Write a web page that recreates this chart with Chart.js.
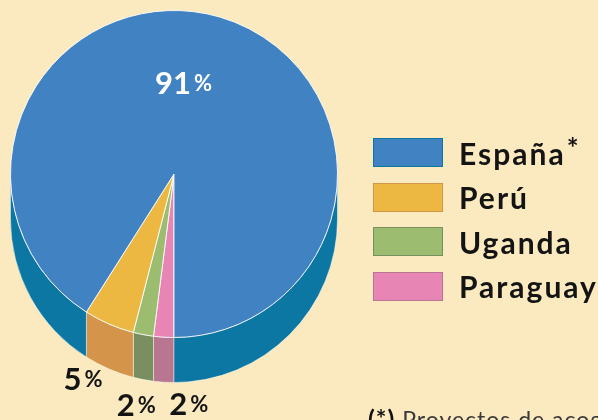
<!DOCTYPE html>
<html>
<head>
<meta charset="utf-8">
<script src="https://cdn.jsdelivr.net/npm/chart.js@4.4.1/dist/chart.umd.min.js"></script>
<style>
    html, body { margin: 0; padding: 0; background: #fbeabf; }
    #wrap { position: relative; width: 598px; height: 420px; overflow: hidden; font-family: Lato, sans-serif; }
    #pie { position: absolute; left: 0; top: 0; }
    #legend { position: absolute; left: 373px; top: 138px; }
    .item { display: flex; align-items: center; height: 29px; margin-bottom: 15.5px; }
    .box { width: 68px; height: 27px; border: 1px solid; margin-right: 16px; box-sizing: content-box; }
    .lbl { font-size: 30px; font-weight: 700; color: #141414; white-space: nowrap; letter-spacing: 2px; }
    .lbl .star { font-size: 28px; position: relative; top: -7px; margin-left: 1px; }
    #note { position: absolute; left: 368px; top: 403px; font-size: 23px; color: #3a3a3a; white-space: nowrap; letter-spacing: 1px; }
    #note b { font-weight: 700; color: #111; font-size: 25px; }
</style>
</head>
<body>
<div id="wrap">
    <canvas id="pie" width="598" height="420"></canvas>
    <div id="legend"></div>
    <div id="note"><b>(*)</b> Proyectos de acogida</div>
</div>
<script>
const countries = ['España*', 'Perú', 'Uganda', 'Paraguay'];
const shares = [91, 5, 2, 2];
const topColors = ['#4182c2', '#ecb842', '#9cbc70', '#e786b4'];
const sideColors = ['#0c77a2', '#d4954b', '#7a8f5f', '#b87691'];

const depth = 45;

// label placement: r = fraction of radius along slice middle, rim = on lower edge of the side
const labelPlace = [
    { r: 0.58, rim: false, dx: -17, dy: 0, color: '#ffffff' },
    { r: 1, rim: true, dx: -26, dy: 10, color: '#141414' },
    { r: 1, rim: true, dx: -7, dy: 25, color: '#141414' },
    { r: 1, rim: true, dx: 25, dy: 22, color: '#141414' }
];

// legend
const legendEl = document.getElementById('legend');
countries.forEach((name, i) => {
    const item = document.createElement('div');
    item.className = 'item';
    const box = document.createElement('div');
    box.className = 'box';
    box.style.background = topColors[i];
    box.style.borderColor = sideColors[i];
    const lbl = document.createElement('span');
    lbl.className = 'lbl';
    lbl.innerHTML = name.replace('*', '<span class="star">*</span>');
    item.appendChild(box);
    item.appendChild(lbl);
    legendEl.appendChild(item);
});

// pie goes clockwise from 6 o'clock: Paraguay, Uganda, Perú, España
const order = countries.map((c, i) => i).reverse();

const sidePlugin = {
    id: 'sides',
    beforeDatasetsDraw(chart) {
        const ctx = chart.ctx;
        const meta = chart.getDatasetMeta(0);
        meta.data.forEach((arc, j) => {
            const p = arc.getProps(['x', 'y', 'startAngle', 'endAngle', 'outerRadius'], true);
            const k0 = order[j];
            for (let k = -2; k <= 2; k++) {
                const lo = Math.max(p.startAngle, 2 * Math.PI * k);
                const hi = Math.min(p.endAngle, 2 * Math.PI * k + Math.PI);
                if (hi <= lo) continue;
                ctx.save();
                ctx.beginPath();
                ctx.arc(p.x, p.y, p.outerRadius, lo, hi);
                ctx.arc(p.x, p.y + depth, p.outerRadius, hi, lo, true);
                ctx.closePath();
                ctx.fillStyle = sideColors[k0];
                ctx.fill();
                ctx.strokeStyle = 'rgba(255,255,255,0.45)';
                ctx.lineWidth = 1;
                ctx.stroke();
                ctx.restore();
            }
        });
    }
};

const labelPlugin = {
    id: 'pctLabels',
    afterDatasetsDraw(chart) {
        const ctx = chart.ctx;
        const meta = chart.getDatasetMeta(0);
        meta.data.forEach((arc, j) => {
            const i = order[j];
            const p = arc.getProps(['x', 'y', 'startAngle', 'endAngle', 'outerRadius'], true);
            const place = labelPlace[i];
            const mid = (p.startAngle + p.endAngle) / 2;
            const cx = p.x + Math.cos(mid) * p.outerRadius * place.r + place.dx;
            const cy = p.y + Math.sin(mid) * p.outerRadius * place.r + (place.rim ? depth : 0) + place.dy;
            const num = String(shares[i]);
            ctx.save();
            ctx.fillStyle = place.color;
            ctx.textBaseline = 'alphabetic';
            ctx.font = '700 31px Lato, sans-serif';
            const wNum = ctx.measureText(num).width;
            ctx.font = '700 22px Lato, sans-serif';
            const wPct = ctx.measureText('%').width;
            const x0 = cx - (wNum + 3 + wPct) / 2;
            const base = cy + 11;
            ctx.font = '700 31px Lato, sans-serif';
            ctx.fillText(num, x0, base);
            ctx.font = '700 22px Lato, sans-serif';
            ctx.fillText('%', x0 + wNum + 3, base - 3);
            ctx.restore();
        });
    }
};

new Chart(document.getElementById('pie').getContext('2d'), {
    type: 'pie',
    data: {
        labels: order.map(i => countries[i]),
        datasets: [{
            data: order.map(i => shares[i]),
            backgroundColor: order.map(i => topColors[i]),
            borderColor: 'rgba(255,255,255,0.85)',
            borderWidth: 1
        }]
    },
    options: {
        responsive: false,
        animation: false,
        rotation: 180,
        layout: { padding: { left: 10, top: 10, right: 260, bottom: 82 } },
        plugins: {
            legend: { display: false },
            tooltip: { enabled: false }
        }
    },
    plugins: [sidePlugin, labelPlugin]
});
</script>
</body>
</html>
